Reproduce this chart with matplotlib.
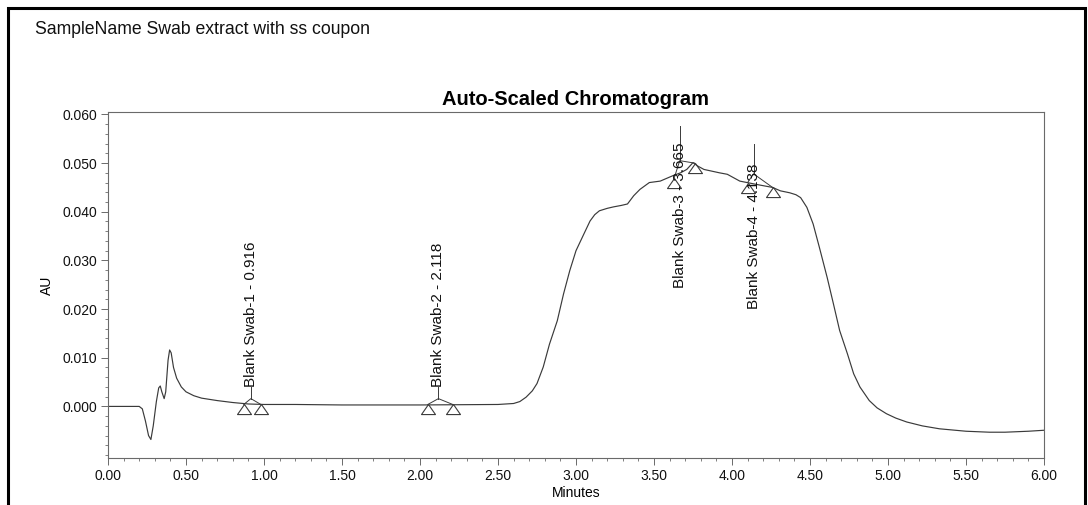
import matplotlib
matplotlib.use("Agg")
import matplotlib.pyplot as plt
from matplotlib.ticker import MultipleLocator, FixedLocator
from matplotlib.path import Path
from matplotlib.patches import Rectangle

plt.rcParams['font.family'] = ['Liberation Sans', 'DejaVu Sans']

# ---- chromatogram trace (minutes, AU) ----
time_min = [0.00, 0.15, 0.20, 0.22, 0.24, 0.26, 0.275, 0.29, 0.31, 0.325, 0.335,
            0.345, 0.36, 0.37, 0.385, 0.395, 0.405, 0.42, 0.44, 0.47, 0.50, 0.55,
            0.60, 0.70, 0.80, 0.90, 1.00, 1.20, 1.50, 2.00, 2.50, 2.60, 2.64, 2.68,
            2.72, 2.75, 2.79, 2.83, 2.88, 2.92, 2.96, 3.00, 3.05, 3.09, 3.12, 3.15,
            3.20, 3.24, 3.29, 3.33, 3.37, 3.41, 3.47, 3.54, 3.62, 3.67, 3.71, 3.75,
            3.78, 3.82, 3.92, 3.97, 4.05, 4.16, 4.26, 4.31, 4.37, 4.41, 4.44, 4.48,
            4.52, 4.56, 4.61, 4.65, 4.69, 4.74, 4.78, 4.82, 4.88, 4.93, 4.99, 5.05,
            5.12, 5.22, 5.33, 5.50, 5.65, 5.75, 5.90, 6.00]
au = [0.0000, 0.0000, 0.0000, -0.0005, -0.0030, -0.0060, -0.0068, -0.0040, 0.0010,
      0.0038, 0.0042, 0.0030, 0.0016, 0.0030, 0.0095, 0.0116, 0.0110, 0.0080,
      0.0058, 0.0040, 0.0030, 0.0022, 0.0017, 0.0012, 0.0008, 0.0005, 0.0004,
      0.0004, 0.0003, 0.0003, 0.0004, 0.0006, 0.0010, 0.0019, 0.0032, 0.0047,
      0.0081, 0.0128, 0.0176, 0.0231, 0.0279, 0.0320, 0.0354, 0.0381, 0.0394,
      0.0402, 0.0407, 0.0410, 0.0413, 0.0416, 0.0433, 0.0446, 0.0460, 0.0463,
      0.0474, 0.0480, 0.0487, 0.0501, 0.0494, 0.0487, 0.0480, 0.0477, 0.0463,
      0.0456, 0.0450, 0.0443, 0.0439, 0.0435, 0.0429, 0.0409, 0.0375, 0.0327,
      0.0265, 0.0211, 0.0156, 0.0108, 0.0067, 0.0040, 0.0012, -0.0003, -0.0015,
      -0.0024, -0.0032, -0.0040, -0.0046, -0.0051, -0.0053, -0.0053, -0.0051,
      -0.0049]

# ---- integrated peaks ----
peak_names = ["Blank Swab-1", "Blank Swab-2", "Blank Swab-3", "Blank Swab-4"]
peak_rt = [0.916, 2.118, 3.665, 4.138]
peak_start_t = [0.87, 2.05, 3.63, 4.10]
peak_start_v = [0.0004, 0.0004, 0.0470, 0.0460]
peak_end_t = [0.98, 2.21, 3.76, 4.26]
peak_end_v = [0.0004, 0.0004, 0.0500, 0.0450]
peak_apex_v = [0.0016, 0.0016, 0.0505, 0.0478]
marker_top_v = [0.0039, 0.0039, 0.0576, 0.0539]
label_bottom_v = [0.0039, 0.0039, 0.0244, 0.0201]

y_ticks = [0.000, 0.010, 0.020, 0.030, 0.040, 0.050, 0.060]
x_ticks = [0.0, 0.5, 1.0, 1.5, 2.0, 2.5, 3.0, 3.5, 4.0, 4.5, 5.0, 5.5, 6.0]

fig = plt.figure(figsize=(10.88, 5.05), dpi=100)
ax = fig.add_axes([108/1088, 1 - 458/505, (1044-108)/1088, (458-112)/505])

line_c = '#3a3a3a'
axis_c = '#6a6a6a'

ax.plot(time_min, au, color=line_c, lw=0.85)

tri = Path([(0, 0), (-0.5, -0.72), (0.5, -0.72), (0, 0)],
           [Path.MOVETO, Path.LINETO, Path.LINETO, Path.CLOSEPOLY])

for name, rt, ts, vs, te, ve, va_, vt, lb in zip(peak_names, peak_rt, peak_start_t,
                                                peak_start_v, peak_end_t, peak_end_v,
                                                peak_apex_v, marker_top_v, label_bottom_v):
    ax.plot([rt, rt], [va_, vt], color=line_c, lw=0.7)
    ax.plot([ts, rt, te], [vs, va_, ve], color=line_c, lw=0.7)
    ax.plot([ts, te], [vs, ve], linestyle='none', marker=tri, markersize=14.5,
            markerfacecolor='none', markeredgecolor=line_c, markeredgewidth=0.8)
    ax.text(rt, lb, f"{name} - {rt:.3f}", rotation=90, ha='center', va='bottom',
            fontsize=11, color='#111111')

ax.set_xlim(0, 6.0)
ax.set_ylim(-0.0106, 0.0605)
ax.yaxis.set_major_locator(FixedLocator(y_ticks))
ax.yaxis.set_minor_locator(MultipleLocator(0.002))
ax.xaxis.set_major_locator(FixedLocator(x_ticks))
ax.xaxis.set_minor_locator(MultipleLocator(0.1))
ax.set_yticklabels([f"{v:.3f}" for v in y_ticks])
ax.set_xticklabels([f"{v:.2f}" for v in x_ticks])
ax.tick_params(axis='both', which='major', direction='out', length=5, width=0.7,
               color=axis_c, labelsize=10, labelcolor='#111111', pad=3)
ax.tick_params(axis='both', which='minor', direction='out', length=2.5, width=0.6,
               color=axis_c)
for s in ax.spines.values():
    s.set_color(axis_c)
    s.set_linewidth(0.8)

ax.set_ylabel("AU", fontsize=10, labelpad=6)
ax.set_xlabel("Minutes", fontsize=10, labelpad=2)
ax.set_title("Auto-Scaled Chromatogram", fontsize=14.5, fontweight='bold', pad=5)

fig.text(35/1088, 1 - 30/505, "SampleName Swab extract with ss coupon",
         fontsize=12.7, ha='left', va='center', color='#111111')

fig.patches.append(Rectangle((8/1088, -0.02), (1085-8)/1088, 1.02 - 8/505,
                             transform=fig.transFigure, fill=False,
                             edgecolor='black', linewidth=2.2))

fig.savefig("out.png", dpi=100)
